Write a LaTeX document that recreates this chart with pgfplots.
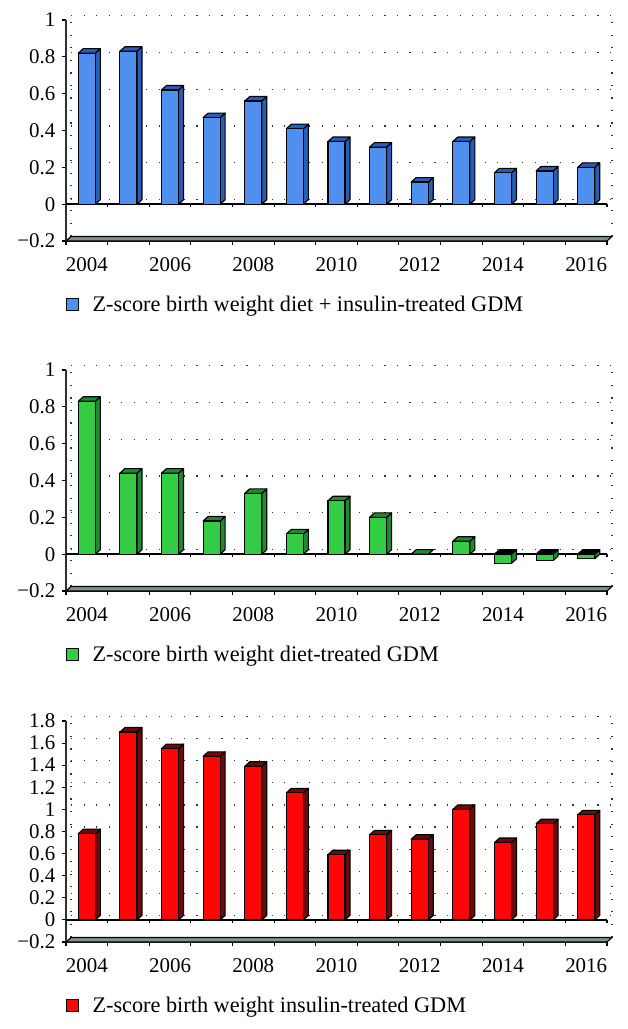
\documentclass[border=0pt]{standalone}
\usepackage{fontspec}
\setmainfont{Liberation Serif}
\usepackage{pgfplots}
\usepackage{pgfplotstable}
\pgfplotsset{compat=1.18}
\definecolor{bluefront}{HTML}{4F8FEE}\definecolor{blueside}{HTML}{2A5CB8}\definecolor{bluetop}{HTML}{2A5CB8}
\definecolor{greenfront}{HTML}{35CC45}\definecolor{greenside}{HTML}{1F8A30}\definecolor{greentop}{HTML}{1F8A30}
\definecolor{redfront}{HTML}{FF0505}\definecolor{redside}{HTML}{6E0A0A}\definecolor{redtop}{HTML}{6E0A0A}
\definecolor{floorc}{HTML}{7F9090}\definecolor{axc}{HTML}{303030}

\pgfplotstableread{
x y
0 0.82
1 0.83
2 0.62
3 0.47
4 0.56
5 0.41
6 0.34
7 0.31
8 0.12
9 0.34
10 0.17
11 0.18
12 0.20
}\tblA
\pgfplotstableread{
x y
0 0.83
1 0.44
2 0.44
3 0.18
4 0.33
5 0.11
6 0.29
7 0.20
8 0.00
9 0.07
10 -0.05
11 -0.035
12 -0.025
}\tblB
\pgfplotstableread{
x y
0 0.78
1 1.70
2 1.55
3 1.48
4 1.39
5 1.15
6 0.59
7 0.77
8 0.73
9 1.00
10 0.70
11 0.87
12 0.95
}\tblC

\pgfplotsset{
  panel/.style={
    scale only axis, width=405.75pt, height=165.75pt, clip=false,
    xmin=-0.5, xmax=12.5,
    axis x line*=bottom, axis y line*=left,
    axis line style={axc, line width=1.1pt, -},
    xtick={-0.5,0.5,...,12.5}, xticklabels={},
    extra x ticks={0,2,4,6,8,10,12},
    extra x tick labels={2004,2006,2008,2010,2012,2014,2016},
    extra x tick style={major tick length=0pt, tick style={draw=none},
      xticklabel style={yshift=-9pt}},
    tick align=outside, major tick length=3pt,
    tick style={black, line width=0.8pt},
    minor tick length=0pt,
    tick label style={font=\fontsize{15.7}{16}\selectfont},
    yticklabel style={xshift=-1.5pt},
    legend style={draw=none, fill=none, at={(0,0)}, anchor=west, yshift=-47.5pt, xshift=0pt,
      font=\fontsize{16.7}{18}\selectfont, inner sep=0pt, row sep=0pt,
      /tikz/every even column/.append style={column sep=0pt}},
    legend cell align=left,
    legend image code/.code={\draw[##1, draw=black, line width=0.7pt] (0pt,-4.5pt) rectangle (9pt,4.5pt);},
  },
  dots/.style={forget plot, black!80, line width=0.9pt, dash pattern=on 0.9pt off 8.5pt},
  thin edge/.style={forget plot, draw=black, line width=0.85pt, line join=round},
}
% #1 table, #2 colour prefix, #3 depth in y units, #4 list of grid values, #5 ymin, #6 ymax
\newcommand\panelbody[6]{%
  \pgfmathsetmacro\dxx{0.12}%
  \pgfmathsetmacro\ybot{#5+#3}\pgfmathsetmacro\ytopp{#6+#3}%
  \pgfplotsforeachungrouped \g in {#4}{%
    \pgfmathsetmacro\gy{\g+#3}%
    \edef\tmp{\noexpand\addplot[dots] coordinates {(-0.38,\gy)(12.62,\gy)};}\tmp}%
  \edef\tmp{\noexpand\addplot[dots] coordinates {(-0.38,\ybot)(-0.38,\ytopp)};}\tmp
  \edef\tmp{\noexpand\addplot[dots] coordinates {(12.62,\ybot)(12.62,\ytopp)};}\tmp
  \edef\tmp{\noexpand\addplot[thin edge, fill=floorc] coordinates {(-0.5,#5)(-0.38,\ybot)(12.62,\ybot)(12.5,#5)} --cycle;}\tmp
  \addplot[forget plot, black, line width=1pt] coordinates {(-0.5,0)(12.5,0)};
  \pgfmathsetmacro\tk{-3*(#6-#5)/221}%
  \pgfplotsforeachungrouped \q in {0.5,1.5,2.5,3.5,4.5,5.5,6.5,7.5,8.5,9.5,10.5,11.5,12.5}{%
    \edef\tmp{\noexpand\addplot[forget plot, black, line width=0.8pt] coordinates {(\q,0)(\q,\tk)};}\tmp}%
  \pgfplotsforeachungrouped \i in {0,...,12}{%
    \pgfplotstablegetelem{\i}{y}\of#1\let\v\pgfplotsretval
    \pgfmathsetmacro\hi{max(\v,0)}\pgfmathsetmacro\lo{min(\v,0)}%
    \pgfmathsetmacro\xa{\i-0.205}\pgfmathsetmacro\xb{\i+0.205}%
    \pgfmathsetmacro\xc{\xb+\dxx}\pgfmathsetmacro\xd{\xa+\dxx}%
    \pgfmathsetmacro\hib{\hi+#3}\pgfmathsetmacro\lob{\lo+#3}%
    \pgfmathparse{\v<0?"black":"#2top"}\edef\topc{\pgfmathresult}%
    \edef\tmp{\noexpand\addplot[thin edge, fill=#2side] coordinates {(\xb,\hi)(\xc,\hib)(\xc,\lob)(\xb,\lo)} --cycle;}\tmp
    \edef\tmp{\noexpand\addplot[thin edge, fill=\topc] coordinates {(\xa,\hi)(\xd,\hib)(\xc,\hib)(\xb,\hi)} --cycle;}\tmp
  }%
  \addplot[ybar, bar width=12.75pt, fill=#2front, draw=black, line width=0.85pt] table[x=x,y=y] {#1};
}
\begin{document}
\begin{tikzpicture}
\useasboundingbox (0,0) rectangle (471pt,771.75pt);
\begin{axis}[panel, at={(49.5pt,591pt)}, anchor=south west, ymin=-0.2, ymax=1,
  ytick={-0.2,0,0.2,0.4,0.6,0.8,1}, yticklabels={−0.2,0,0.2,0.4,0.6,0.8,1}]
\panelbody{\tblA}{blue}{0.0244}{0,0.2,0.4,0.6,0.8,1}{-0.2}{1}
\addlegendentry{\hspace{8pt}Z-score birth weight diet + insulin-treated GDM}
\end{axis}
\begin{axis}[panel, at={(49.5pt,328.5pt)}, anchor=south west, ymin=-0.2, ymax=1,
  ytick={-0.2,0,0.2,0.4,0.6,0.8,1}, yticklabels={−0.2,0,0.2,0.4,0.6,0.8,1}]
\panelbody{\tblB}{green}{0.0244}{0,0.2,0.4,0.6,0.8,1}{-0.2}{1}
\addlegendentry{\hspace{8pt}Z-score birth weight diet-treated GDM}
\end{axis}
\begin{axis}[panel, at={(49.5pt,65.25pt)}, anchor=south west, ymin=-0.2, ymax=1.8,
  ytick={-0.2,0,0.2,0.4,0.6,0.8,1,1.2,1.4,1.6,1.8}, yticklabels={−0.2,0,0.2,0.4,0.6,0.8,1,1.2,1.4,1.6,1.8}]
\panelbody{\tblC}{red}{0.0407}{0,0.2,0.4,0.6,0.8,1,1.2,1.4,1.6,1.8}{-0.2}{1.8}
\addlegendentry{\hspace{8pt}Z-score birth weight insulin-treated GDM}
\end{axis}
\end{tikzpicture}
\end{document}
